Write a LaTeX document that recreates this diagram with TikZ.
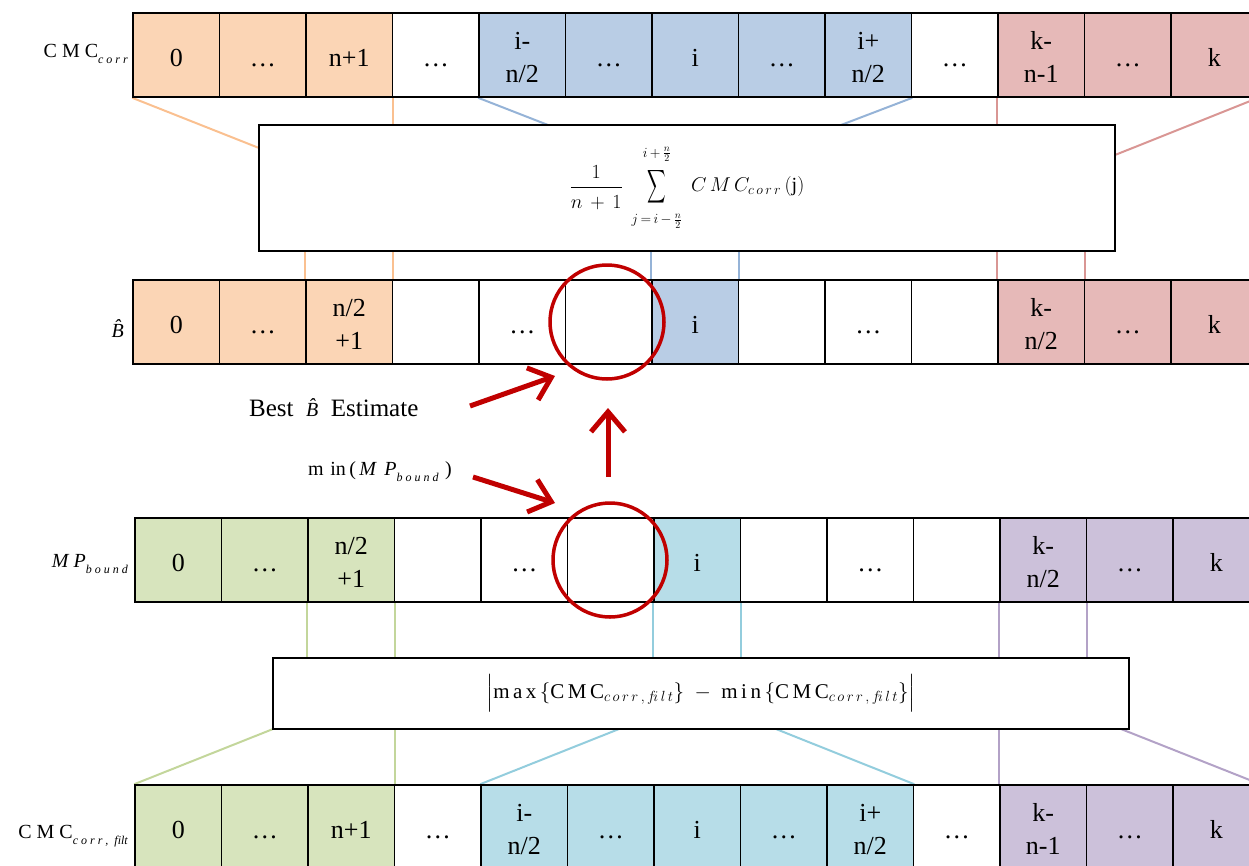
\RequirePackage{fix-cm}
\documentclass[tikz,border=0pt]{standalone}
\usepackage{amsmath}
\usepackage{exscale}
\usepackage{graphicx}
\usepackage{fontspec}
\setmainfont{Liberation Serif}
\usetikzlibrary{arrows.meta}
\pgfdeclarelayer{background}
\pgfsetlayers{background,main}

% cell fills (F) and matching connector lines (L)
\definecolor{orgF}{HTML}{FBD5B5}\definecolor{orgL}{HTML}{FAC090}
\definecolor{bluF}{HTML}{B9CDE5}\definecolor{bluL}{HTML}{95B3D7}
\definecolor{redF}{HTML}{E6B9B8}\definecolor{redL}{HTML}{D99694}
\definecolor{grnF}{HTML}{D7E4BD}\definecolor{grnL}{HTML}{C3D69B}
\definecolor{cynF}{HTML}{B7DDE8}\definecolor{cynL}{HTML}{93CDDD}
\definecolor{purF}{HTML}{CCC1DA}\definecolor{purL}{HTML}{B3A2C7}
\definecolor{nonF}{HTML}{FFFFFF}
\definecolor{hilite}{HTML}{C00000}

\newcommand{\twol}[2]{\begin{tabular}{@{}c@{}}#1\\#2\end{tabular}}
\newcommand{\labfont}{\fontsize{20}{24}\selectfont}
\newcommand{\lowsub}[1]{\raisebox{-6pt}{\fontsize{12}{14}\selectfont\itshape #1}}
\newcommand{\slimsum}{\mathop{\vcenter{\hbox{\scalebox{0.62}[1.12]{$\displaystyle\sum$}}}}\limits}

\tikzset{
  cellbox/.style={draw=black, line width=1.6pt, minimum width=86.5pt, minimum height=84pt,
    inner sep=0pt, font=\fontsize{26}{33}\selectfont, text height=24pt, text depth=2pt},
  bigbox/.style={draw=black, line width=2.2pt, fill=white, minimum width=856pt, inner sep=0pt},
  link/.style={line width=2pt},
  ring/.style={circle, draw=hilite, line width=3.5pt, minimum size=114pt, inner sep=0pt},
  redarrow/.style={draw=hilite, line width=5pt, -{Straight Barb[length=20pt,width=34pt]}},
  plain/.style={inner sep=0pt}
}

\begin{document}
\begin{tikzpicture}[x=1pt,y=-1pt]
\useasboundingbox (0,0) rectangle (1249,865);
\clip (0,0) rectangle (1249,865);

% CMC_corr row
\foreach \t/\cc [count=\i from 0] in {0/org, \ldots/org, n+1/org, \ldots/non,
    {\twol{i-}{n/2}}/blu, \ldots/blu, i/blu, \ldots/blu, {\twol{i+}{n/2}}/blu,
    \ldots/non, {\twol{k-}{n-1}}/red, \ldots/red, k/red}
  \node[cellbox, fill=\cc F] (a-\i) at ({133+86.5*(\i+0.5)},55) {\t};

% B-hat row
\foreach \t/\cc [count=\i from 0] in {0/org, \ldots/org, {\twol{n/2}{+1}}/org, /non,
    \ldots/non, /non, i/blu, /non, \ldots/non, /non,
    {\twol{k-}{n/2}}/red, \ldots/red, k/red}
  \node[cellbox, fill=\cc F] (b-\i) at ({133+86.5*(\i+0.5)},322) {\t};

% MP_bound row
\foreach \t/\cc [count=\i from 0] in {0/grn, \ldots/grn, {\twol{n/2}{+1}}/grn, /non,
    \ldots/non, /non, i/cyn, /non, \ldots/non, /non,
    {\twol{k-}{n/2}}/pur, \ldots/pur, k/pur}
  \node[cellbox, fill=\cc F] (c-\i) at ({135+86.5*(\i+0.5)},560) {\t};

% CMC_corr,filt row
\foreach \t/\cc [count=\i from 0] in {0/grn, \ldots/grn, n+1/grn, \ldots/non,
    {\twol{i-}{n/2}}/cyn, \ldots/cyn, i/cyn, \ldots/cyn, {\twol{i+}{n/2}}/cyn,
    \ldots/non, {\twol{k-}{n-1}}/pur, \ldots/pur, k/pur}
  \node[cellbox, fill=\cc F] (d-\i) at ({135+86.5*(\i+0.5)},827) {\t};

% averaging and bound boxes
\node[bigbox, minimum height=126pt] (sumbox) at (687,188)
  {\fontsize{20}{24}\selectfont
   $\displaystyle \frac{1}{\rule{0pt}{19pt}n\,+\,1}\;
    \slimsum_{\rule{0pt}{15pt}j\,=\,i\,-\,\frac{n}{2}}^{i\,+\,\frac{n}{2}\rule[-9pt]{0pt}{0pt}}
    \;C\,M\,C_{c\,o\,r\,r}\,(\mathrm{j})$};
\node[bigbox, minimum height=71pt] (bndbox) at (701,693.5)
  {\fontsize{21}{28}\selectfont
   $\Big|\mathrm{m\,a\,x}\,\{\mathrm{C\,M\,C}_{c\,o\,r\,r\,,\,f\!i\,l\,t}\}\;-\;\mathrm{m\,i\,n}\,\{\mathrm{C\,M\,C}_{c\,o\,r\,r\,,\,f\!i\,l\,t}\}\Big|$};

% free ends of the slanted connectors
\coordinate (oL) at (259,148);
\coordinate (bL) at (548,125);
\coordinate (bR) at (841,125);
\coordinate (rR) at (1115,155);
\coordinate (gL) at (273,729);
\coordinate (cL) at (619,729);
\coordinate (cR) at (776,729);
\coordinate (pR) at (1121,729);

\begin{pgfonlayer}{background}
  % top funnel
  \draw[link, orgL] (a-0.south west) -- (oL);
  \draw[link, orgL] (a-2.south east) -- (a-2.south east |- sumbox.north);
  \draw[link, bluL] (a-4.south west) -- (bL);
  \draw[link, bluL] (a-8.south east) -- (bR);
  \draw[link, redL] (a-10.south west) -- (a-10.south west |- sumbox.north);
  \draw[link, redL] (a-12.south east) -- (rR);
  \draw[link, orgL] (b-2.north west |- sumbox.south) -- (b-2.north west);
  \draw[link, orgL] (b-2.north east |- sumbox.south) -- (b-2.north east);
  \draw[link, bluL] (b-6.north west |- sumbox.south) -- (b-6.north west);
  \draw[link, bluL] (b-6.north east |- sumbox.south) -- (b-6.north east);
  \draw[link, redL] (b-10.north west |- sumbox.south) -- (b-10.north west);
  \draw[link, redL] (b-10.north east |- sumbox.south) -- (b-10.north east);
  % bottom funnel
  \draw[link, grnL] (c-2.south west) -- (c-2.south west |- bndbox.north);
  \draw[link, grnL] (c-2.south east) -- (c-2.south east |- bndbox.north);
  \draw[link, cynL] (c-6.south west) -- (c-6.south west |- bndbox.north);
  \draw[link, cynL] (c-6.south east) -- (c-6.south east |- bndbox.north);
  \draw[link, purL] (c-10.south west) -- (c-10.south west |- bndbox.north);
  \draw[link, purL] (c-10.south east) -- (c-10.south east |- bndbox.north);
  \draw[link, grnL] (gL) -- (d-0.north west);
  \draw[link, grnL] (d-2.north east |- bndbox.south) -- (d-2.north east);
  \draw[link, cynL] (cL) -- (d-4.north west);
  \draw[link, cynL] (cR) -- (d-8.north east);
  \draw[link, purL] (d-10.north west |- bndbox.south) -- (d-10.north west);
  \draw[link, purL] (pR) -- (d-12.north east);
\end{pgfonlayer}

% row labels
\node[plain, anchor=base east] (lab-a) at (128,57) {\labfont C M C\lowsub{c o r r}};
\node[plain, anchor=base east] (lab-b) at (124,337) {\labfont\itshape\^{B}};
\node[plain, anchor=base east] (lab-c) at (128,567) {\labfont\itshape M P\lowsub{b o u n d}};
\node[plain, anchor=base east] (lab-d) at (128,838) {\labfont C M C\lowsub{c o r r ,\ \ filt}};

% selection markers
\node[ring] (best) at (607,322) {};
\node[ring] (minb) at (610,560) {};

\node[plain, anchor=base west] (besttxt) at (249,416)
  {\fontsize{25}{30}\selectfont Best\ \ {\labfont\itshape\^{B}}\ \ Estimate};
\node[plain, anchor=base west] (mintxt) at (308,475)
  {\labfont m\,\,in\,(\,{\itshape M\, P}\lowsub{b o u n d}\,\,)};

\coordinate (p1) at (470,406);
\coordinate (q1) at (555,376);
\coordinate (p2) at (473,477);
\coordinate (q2) at (555,503);
\coordinate (p3) at (608,477);
\coordinate (q3) at (608,408);
\draw[redarrow] (p1) -- (q1);
\draw[redarrow] (p2) -- (q2);
\draw[redarrow] (p3) -- (q3);
\end{tikzpicture}
\end{document}
